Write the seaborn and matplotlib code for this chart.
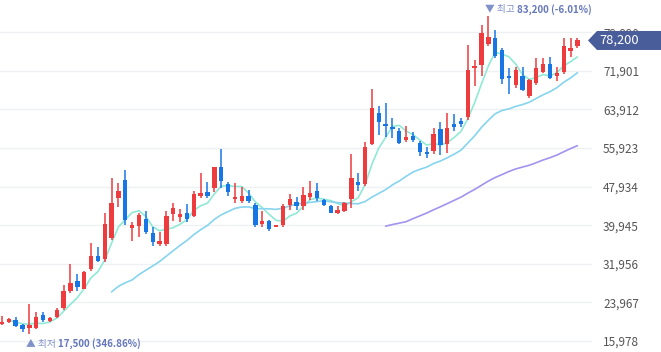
import matplotlib.pyplot as plt
import matplotlib.patches as mpatches
import numpy as np
import pandas as pd
import seaborn as sns


# daily OHLC, oldest first
opens = [19500, 19850, 20350, 19300, 18750, 18750, 21350, 20200, 21000, 22750,
         26350, 28450, 26800, 30800, 33600, 32900, 37250, 45650, 49300, 39450,
         39850, 41250, 38350, 36050, 36050, 42200, 41700, 42400, 41850, 46050,
         46900, 47700, 51950, 48550, 45300, 45050, 46000, 44150, 40200, 40800,
         39600, 40000, 44150, 44750, 43950, 45750, 47050, 45150, 43950, 42550,
         42950, 45300, 48900, 48400, 56750, 63100, 60850, 60300, 59500, 57600,
         58400, 56900, 55150, 55400, 59800, 56750, 61000, 61600, 62350, 72450,
         73100, 77450, 78750, 76250, 70850, 69000, 70850, 66700, 69350, 71750,
         73250, 70850, 71600, 76100, 77050]
highs = [21150, 20750, 20900, 19500, 23650, 22050, 21900, 21000, 22800, 27500,
         31900, 29850, 30550, 36200, 35500, 42400, 49650, 48650, 51400, 40700,
         42550, 42900, 39500, 38600, 42900, 44600, 43250, 44300, 47050, 50700,
         48950, 52050, 55650, 48950, 48650, 47900, 47250, 44550, 42950, 41050,
         40000, 44300, 46400, 45750, 47900, 49050, 48650, 45400, 44150, 43950,
         44800, 54700, 50700, 57250, 68100, 64650, 65200, 62100, 60000, 60500,
         59300, 57450, 56200, 60000, 61250, 63100, 62950, 62100, 77250, 74150,
         81400, 83200, 80350, 76700, 72450, 72750, 72650, 70150, 74500, 74500,
         74700, 72750, 78650, 78650, 78750]
lows = [19300, 19700, 18950, 17900, 17500, 18400, 19950, 19950, 20800, 22400,
        25850, 26400, 26700, 30550, 32350, 32400, 36900, 43800, 40000, 36700,
        37550, 38150, 35650, 35650, 35650, 40800, 40700, 40550, 41600, 45650,
        45650, 46900, 47600, 46000, 44500, 44500, 44500, 39600, 39500, 38750,
        39500, 39500, 43100, 43100, 43100, 45150, 44950, 43950, 42400, 42250,
        42600, 43600, 47050, 48050, 56550, 58650, 58150, 57950, 56700, 57250,
        57200, 54300, 53950, 54700, 54500, 54900, 59500, 60350, 61750, 68850,
        70850, 77100, 74650, 69200, 67100, 68400, 67750, 66250, 69000, 71400,
        70200, 69850, 71200, 74700, 76600]
closes = [20000, 20550, 19150, 18400, 19300, 20900, 20250, 20750, 22400, 26400,
          28050, 27100, 30250, 33600, 32600, 40200, 44600, 47050, 41050, 40000,
          42050, 38600, 36550, 36750, 41850, 43450, 42250, 41150, 46400, 46700,
          46050, 51950, 49150, 46900, 45850, 46000, 45050, 40000, 40900, 39100,
          39850, 43950, 45400, 43950, 46200, 46700, 45650, 44150, 42550, 43100,
          44500, 49650, 48350, 56100, 64150, 61400, 60550, 59950, 57050, 58300,
          57600, 55050, 54650, 58850, 56550, 60150, 60350, 60900, 72100, 73000,
          79800, 78850, 75000, 70150, 70350, 72100, 67950, 70000, 72450, 73250,
          70500, 71550, 77050, 76700, 78200]

ma_windows = [5, 20, 60]
ma_colors = ["#8fe9d6", "#86d4ef", "#a393ee"]
y_ticks = [15978, 23967, 31956, 39945, 47934, 55923, 63912, 71901, 79890]

UP = "#ee3b3e"
DOWN = "#1876e4"
W, H = 661, 352


def main() -> None:
    df = pd.DataFrame({"open": opens, "high": highs, "low": lows, "close": closes})
    df["idx"] = np.arange(len(df))
    up = df["close"] >= df["open"]
    colors = np.where(up, UP, DOWN)

    # moving averages (3 earlier sessions are off-screen)
    ma_frames = []
    for w in ma_windows:
        ma = df["close"].rolling(w, min_periods=w - 3).mean()
        ma_frames.append(pd.DataFrame({"idx": df["idx"], "value": ma, "ma": f"{w}"}))
    ma_df = pd.concat(ma_frames).dropna()

    sns.set_theme(style="white")
    plt.rcParams["font.family"] = ["Noto Sans CJK KR", "DejaVu Sans"]

    fig = plt.figure(figsize=(W / 100, H / 100), dpi=100)
    ax = fig.add_axes([0, 0, 592 / W, 1])

    sns.lineplot(data=ma_df, x="idx", y="value", hue="ma",
                 hue_order=[str(w) for w in ma_windows],
                 palette=dict(zip([str(w) for w in ma_windows], ma_colors)),
                 linewidth=1.2, legend=False, ax=ax, zorder=2)

    ax.vlines(df["idx"], df["low"], df["high"], colors=colors, linewidth=1.1, zorder=3)
    body = np.maximum((df["close"] - df["open"]).abs(), 300)
    ax.bar(df["idx"], body, bottom=np.minimum(df["open"], df["close"]),
           width=0.64, color=colors, linewidth=0, zorder=4)

    ax.set_xlim(-0.29, 86.13)
    ax.set_ylim(13700, 86580)
    ax.set_xticks([])
    ax.set_yticks(y_ticks)
    ax.set_yticklabels([f"{t:,}" for t in y_ticks])
    ax.yaxis.tick_right()
    ax.tick_params(axis="y", length=0, pad=8, labelsize=8.5, labelcolor="#555555")
    ax.grid(axis="y", color="#eef0f4", linewidth=1)
    ax.set_xlabel("")
    ax.set_ylabel("")
    for s in ax.spines.values():
        s.set_visible(False)

    # high / low markers
    last = df["close"].iloc[-1]
    hi_i = int(df["high"].idxmax())
    lo_i = int(df["low"].idxmin())
    hi = df["high"].iloc[hi_i]
    lo = df["low"].iloc[lo_i]
    t1 = ax.annotate("▼ 최고", xy=(hi_i, hi), xytext=(-3, 7), textcoords="offset pixels",
                     ha="left", va="center", fontsize=7, color="#8091c9",
                     annotation_clip=False)
    ax.annotate(f"{hi:,} ({(last - hi) / hi * 100:.2f}%)", xy=(1, 0.5), xycoords=t1,
                xytext=(2, 0), textcoords="offset pixels", ha="left", va="center",
                fontsize=7, color="#6577bb", fontweight="bold", annotation_clip=False)
    t2 = ax.annotate("▲ 최저", xy=(lo_i, lo), xytext=(-3, -10), textcoords="offset pixels",
                     ha="left", va="center", fontsize=7, color="#8091c9",
                     annotation_clip=False)
    ax.annotate(f"{lo:,} ({(last - lo) / lo * 100:.2f}%)", xy=(1, 0.5), xycoords=t2,
                xytext=(2, 0), textcoords="offset pixels", ha="left", va="center",
                fontsize=7, color="#6577bb", fontweight="bold", annotation_clip=False)

    # last price tag
    yc = ax.transData.transform((0, last))[1]
    pts = [(588, yc), (597, yc + 9.5), (W, yc + 9.5), (W, yc - 9.5), (597, yc - 9.5)]
    tag = mpatches.Polygon([(x / W, y / H) for x, y in pts], closed=True,
                           transform=fig.transFigure, facecolor="#4a5d9b",
                           edgecolor="none", zorder=10)
    fig.add_artist(tag)
    fig.text(599 / W, yc / H, f"{last:,}", ha="left", va="center", fontsize=9.3,
             color="white", zorder=11)

    fig.savefig("out.png", dpi=100, facecolor="white")
    plt.close(fig)


if __name__ == "__main__":
    main()
